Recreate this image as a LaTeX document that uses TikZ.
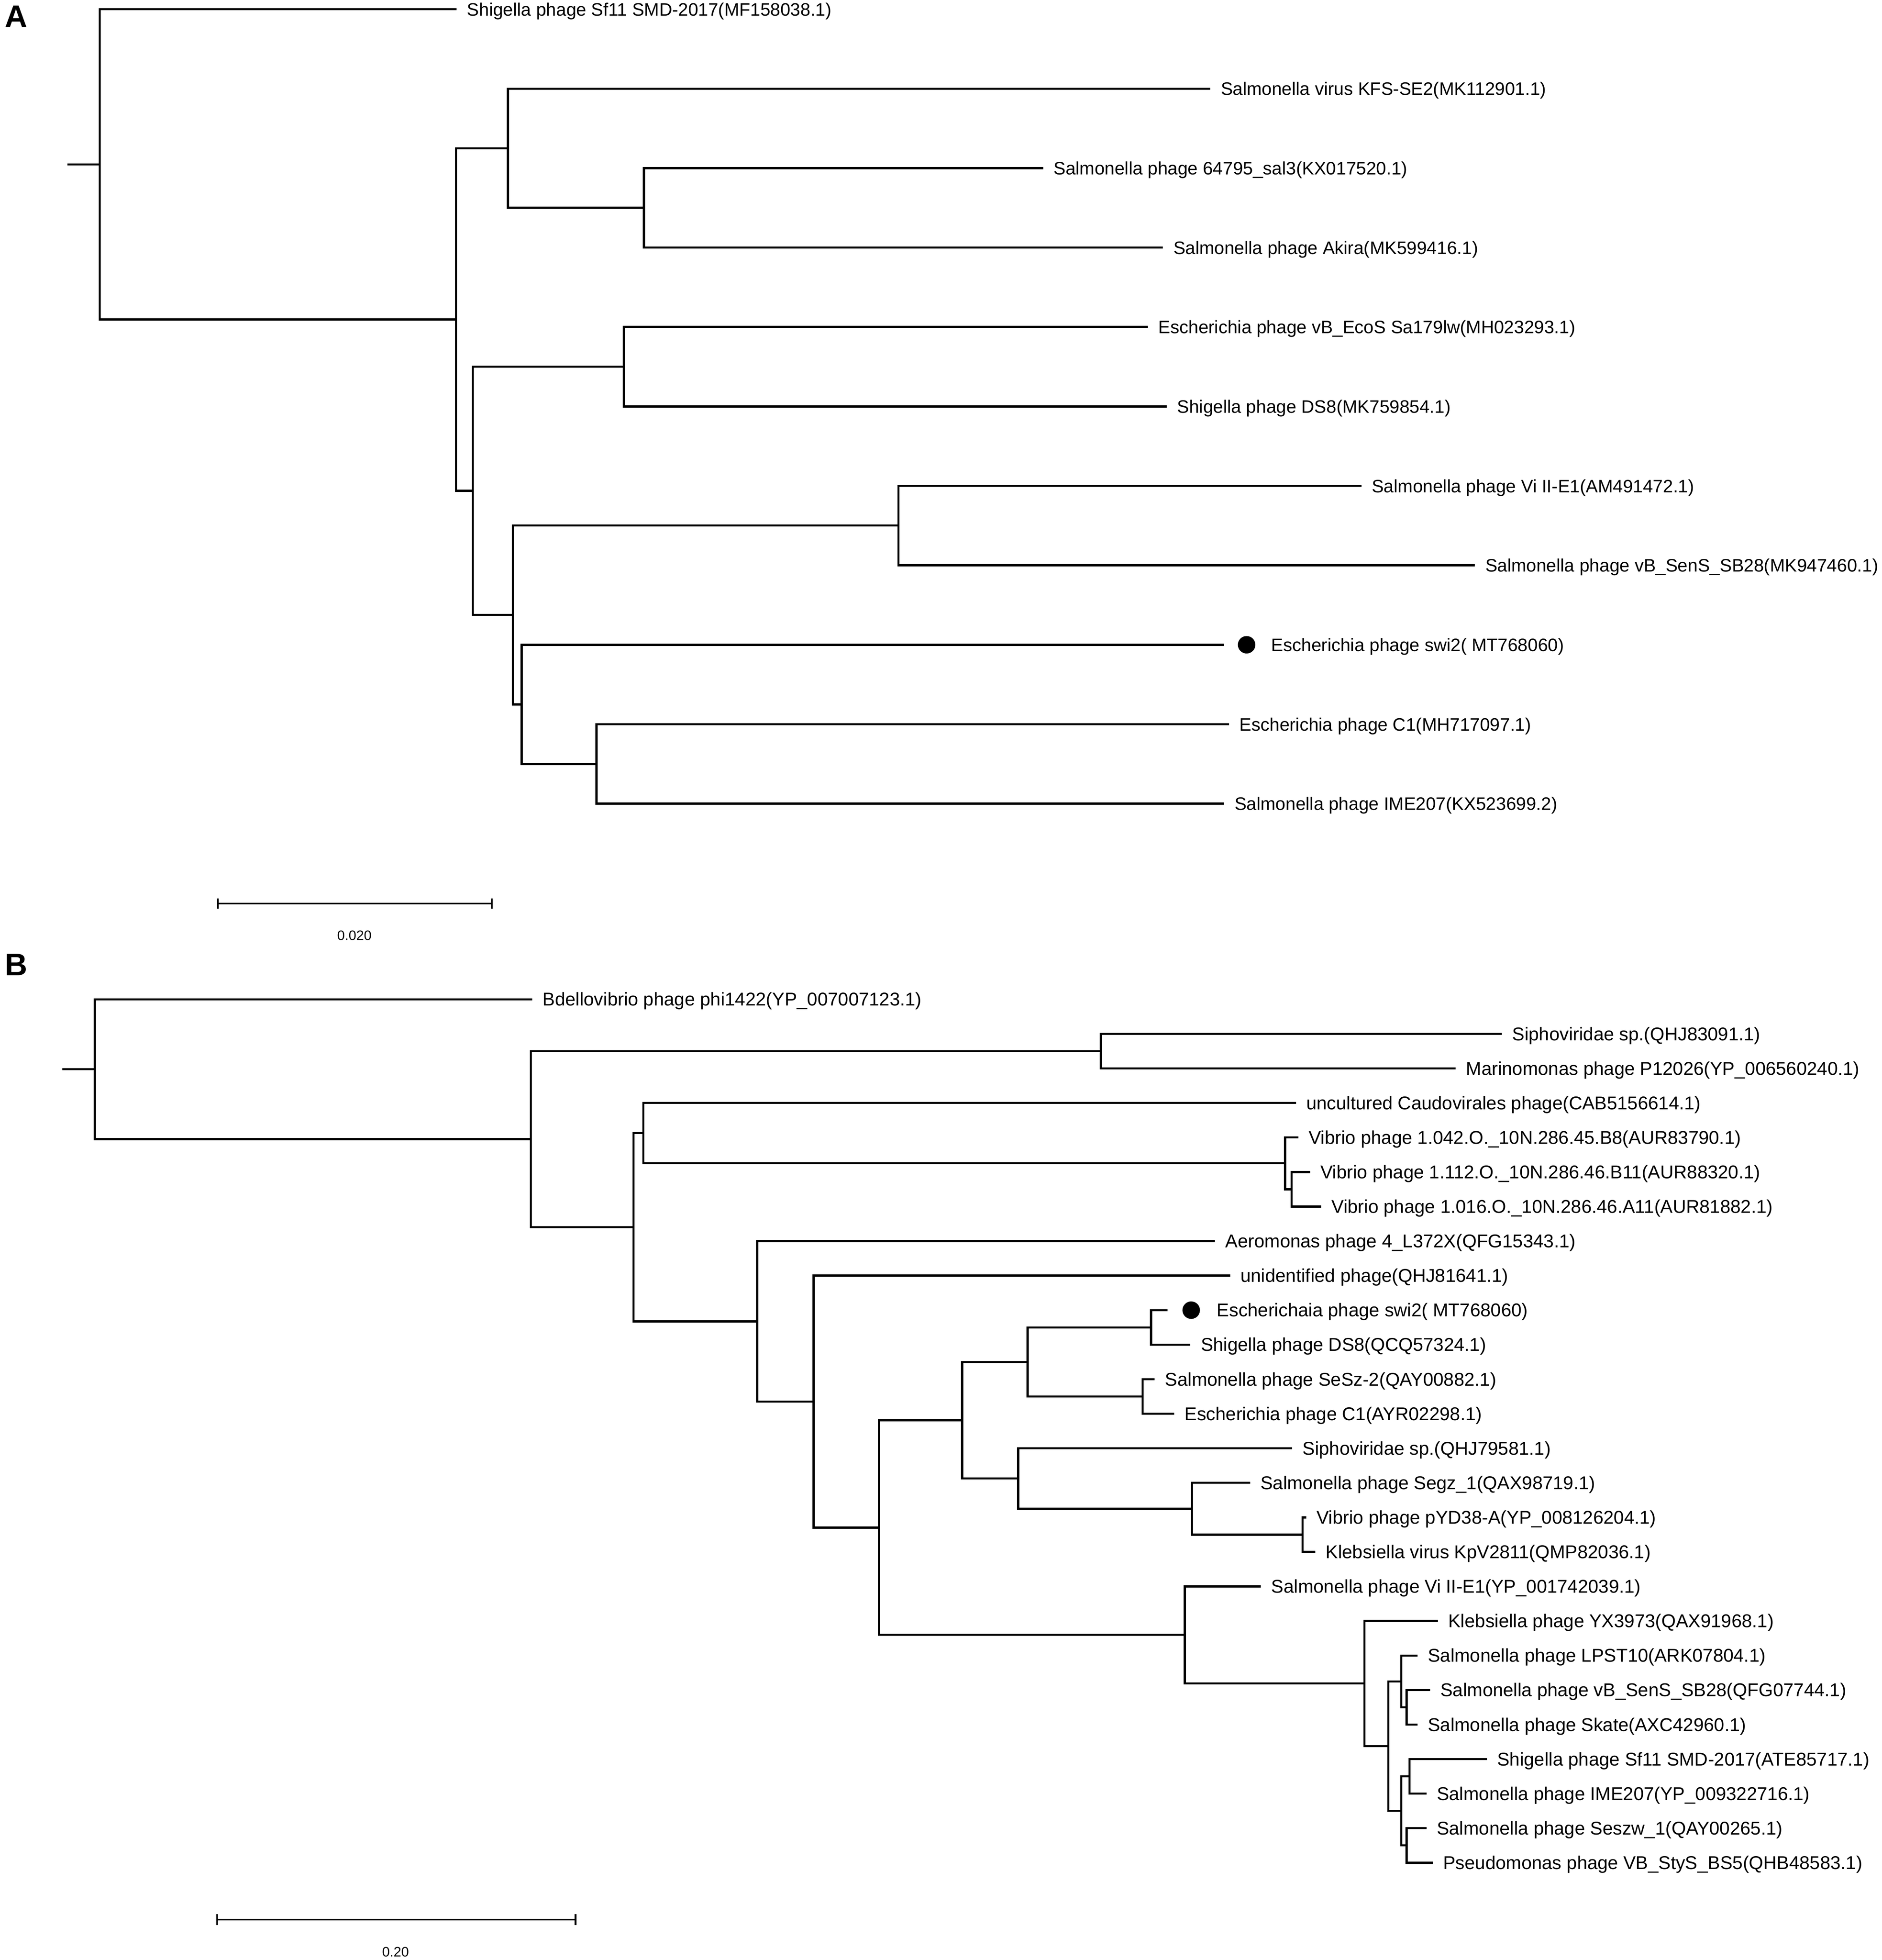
\documentclass[tikz,border=0pt]{standalone}
\usepackage{fontspec}
\setmainfont{Liberation Sans}

\begin{document}
\begin{tikzpicture}[x=1pt, y=-1pt, line width=1.7pt,
  lbla/.style={anchor=base west, inner sep=0pt, xshift=7.5pt, yshift=-5.2pt, font=\fontsize{14.45}{17}\selectfont},
  lblb/.style={lbla, font=\fontsize{14.85}{17}\selectfont},
  panel/.style={anchor=base west, inner sep=0pt, font=\fontsize{25}{30}\selectfont\bfseries},
  scl/.style={inner sep=0pt, font=\fontsize{11}{13}\selectfont}]
\useasboundingbox (0,0) rectangle (1508,1570.4);

% Panel A
\node[panel] (pa) at (3,21.7) {A};
% leaves
\coordinate (a0) at (366,7.4);
\coordinate (a1) at (970,71.05);
\coordinate (a2) at (836,134.7);
\coordinate (a3) at (932,198.35);
\coordinate (a4) at (920,262);
\coordinate (a5) at (935,325.65);
\coordinate (a6) at (1091,389.3);
\coordinate (a7) at (1182,452.95);
\coordinate (a8) at (981,516.6);
\coordinate (a9) at (985,580.25);
\coordinate (a10) at (981,643.9);
% inner nodes
\coordinate (ra0) at (54,131.7);
\coordinate (ra) at (80,131.7);
\coordinate (na1) at (365.5,256);
\coordinate (na2) at (407,118.8);
\coordinate (na4) at (516,166.5);
\coordinate (na3) at (379,393.25);
\coordinate (na5) at (500,293.8);
\coordinate (na6) at (411,492.7);
\coordinate (na7) at (720,421.1);
\coordinate (na8) at (418,564.35);
\coordinate (na9) at (478,612.1);
% branches
\draw (ra0) -- (ra);
\draw (ra) |- (a0);
\draw (ra) |- (na1);
\draw (na1) |- (na2);
\draw (na1) |- (na3);
\draw (na2) |- (a1);
\draw (na2) |- (na4);
\draw (na4) |- (a2);
\draw (na4) |- (a3);
\draw (na3) |- (na5);
\draw (na3) |- (na6);
\draw (na5) |- (a4);
\draw (na5) |- (a5);
\draw (na6) |- (na7);
\draw (na6) |- (na8);
\draw (na7) |- (a6);
\draw (na7) |- (a7);
\draw (na8) |- (a8);
\draw (na8) |- (na9);
\draw (na9) |- (a9);
\draw (na9) |- (a10);
% names
\node[lbla] (ta0) at (a0) {Shigella phage Sf11 SMD-2017(MF158038.1)};
\node[lbla] (ta1) at (a1) {Salmonella virus KFS-SE2(MK112901.1)};
\node[lbla] (ta2) at (a2) {Salmonella phage 64795\_sal3(KX017520.1)};
\node[lbla] (ta3) at (a3) {Salmonella phage Akira(MK599416.1)};
\node[lbla] (ta4) at (a4) {Escherichia phage vB\_EcoS Sa179lw(MH023293.1)};
\node[lbla] (ta5) at (a5) {Shigella phage DS8(MK759854.1)};
\node[lbla] (ta6) at (a6) {Salmonella phage Vi II-E1(AM491472.1)};
\node[lbla] (ta7) at (a7) {Salmonella phage vB\_SenS\_SB28(MK947460.1)};
\coordinate (da) at (999,516.6);
\fill (da) circle (7pt);
\node[lbla] (ta8) at (1010.5,516.6) {Escherichia phage swi2( MT768060)};
\node[lbla] (ta9) at (a9) {Escherichia phage C1(MH717097.1)};
\node[lbla] (ta10) at (a10) {Salmonella phage IME207(KX523699.2)};
% scale
\coordinate (sa1) at (174.5,724);
\coordinate (sa2) at (394.1,724);
\draw[line width=1.3pt] (sa1) -- (sa2);
\draw[line width=1.3pt] (sa1) ++(0,-4) -- ++(0,8);
\draw[line width=1.3pt] (sa2) ++(0,-4) -- ++(0,8);
\node[scl] (ka) at (284,749.5) {0.020};

% Panel B
\node[panel] (pb) at (3,781.6) {B};
% leaves
\coordinate (b1) at (426.5,800.7);
\coordinate (b2) at (1203.5,828.37);
\coordinate (b3) at (1166.5,856.04);
\coordinate (b4) at (1038.5,883.71);
\coordinate (b5) at (1040.4,911.38);
\coordinate (b6) at (1049.8,939.05);
\coordinate (b7) at (1058.7,966.72);
\coordinate (b8) at (973.7,994.39);
\coordinate (b9) at (985.8,1022.06);
\coordinate (b10) at (935.5,1049.73);
\coordinate (b11) at (954,1077.4);
\coordinate (b12) at (925.3,1105.07);
\coordinate (b13) at (941,1132.74);
\coordinate (b14) at (1035.5,1160.41);
\coordinate (b15) at (1001.8,1188.08);
\coordinate (b16) at (1046.7,1215.75);
\coordinate (b17) at (1054,1243.42);
\coordinate (b18) at (1010.5,1271.09);
\coordinate (b19) at (1152.3,1298.76);
\coordinate (b20) at (1135.9,1326.43);
\coordinate (b21) at (1146,1354.1);
\coordinate (b22) at (1135.9,1381.77);
\coordinate (b23) at (1191.5,1409.44);
\coordinate (b24) at (1143.1,1437.11);
\coordinate (b25) at (1143.1,1464.78);
\coordinate (b26) at (1148.2,1492.45);
% inner nodes
\coordinate (rb0) at (50,856.7);
\coordinate (rb) at (76,856.7);
\coordinate (nb1) at (425.5,912.75);
\coordinate (nb2) at (882.3,842.2);
\coordinate (nb3) at (507.7,983.3);
\coordinate (nb4) at (515.5,907.9);
\coordinate (nb5) at (1029.8,932.1);
\coordinate (nb6) at (1035,952.9);
\coordinate (nb7) at (606.8,1058.7);
\coordinate (nb8) at (652,1123);
\coordinate (nb9) at (704.4,1223.9);
\coordinate (nb10) at (771,1137.9);
\coordinate (nb11) at (823.5,1091.25);
\coordinate (nb12) at (922.5,1063.57);
\coordinate (nb13) at (915.6,1118.9);
\coordinate (nb14) at (816,1184.6);
\coordinate (nb15) at (955.3,1208.84);
\coordinate (nb16) at (1043.8,1229.6);
\coordinate (nb17) at (949.4,1309.9);
\coordinate (nb18) at (1093.5,1348.8);
\coordinate (nb19) at (1112.7,1399);
\coordinate (nb20) at (1123,1347.2);
\coordinate (nb21) at (1127.2,1367.9);
\coordinate (nb22) at (1123,1450.95);
\coordinate (nb23) at (1129.6,1423.3);
\coordinate (nb24) at (1127.2,1478.6);
% branches
\draw (rb0) -- (rb);
\draw (rb) |- (b1);
\draw (rb) |- (nb1);
\draw (nb1) |- (nb2);
\draw (nb1) |- (nb3);
\draw (nb2) |- (b2);
\draw (nb2) |- (b3);
\draw (nb3) |- (nb4);
\draw (nb3) |- (nb7);
\draw (nb4) |- (b4);
\draw (nb4) |- (nb5);
\draw (nb5) |- (b5);
\draw (nb5) |- (nb6);
\draw (nb6) |- (b6);
\draw (nb6) |- (b7);
\draw (nb7) |- (b8);
\draw (nb7) |- (nb8);
\draw (nb8) |- (b9);
\draw (nb8) |- (nb9);
\draw (nb9) |- (nb10);
\draw (nb9) |- (nb17);
\draw (nb10) |- (nb11);
\draw (nb10) |- (nb14);
\draw (nb11) |- (nb12);
\draw (nb11) |- (nb13);
\draw (nb12) |- (b10);
\draw (nb12) |- (b11);
\draw (nb13) |- (b12);
\draw (nb13) |- (b13);
\draw (nb14) |- (b14);
\draw (nb14) |- (nb15);
\draw (nb15) |- (b15);
\draw (nb15) |- (nb16);
\draw (nb16) |- (b16);
\draw (nb16) |- (b17);
\draw (nb17) |- (b18);
\draw (nb17) |- (nb18);
\draw (nb18) |- (b19);
\draw (nb18) |- (nb19);
\draw (nb19) |- (nb20);
\draw (nb19) |- (nb22);
\draw (nb20) |- (b20);
\draw (nb20) |- (nb21);
\draw (nb21) |- (b21);
\draw (nb21) |- (b22);
\draw (nb22) |- (nb23);
\draw (nb22) |- (nb24);
\draw (nb23) |- (b23);
\draw (nb23) |- (b24);
\draw (nb24) |- (b25);
\draw (nb24) |- (b26);
% names
\node[lblb] (tb1) at (b1) {Bdellovibrio phage phi1422(YP\_007007123.1)};
\node[lblb] (tb2) at (b2) {Siphoviridae sp.(QHJ83091.1)};
\node[lblb] (tb3) at (b3) {Marinomonas phage P12026(YP\_006560240.1)};
\node[lblb] (tb4) at (b4) {uncultured Caudovirales phage(CAB5156614.1)};
\node[lblb] (tb5) at (b5) {Vibrio phage 1.042.O.\_10N.286.45.B8(AUR83790.1)};
\node[lblb] (tb6) at (b6) {Vibrio phage 1.112.O.\_10N.286.46.B11(AUR88320.1)};
\node[lblb] (tb7) at (b7) {Vibrio phage 1.016.O.\_10N.286.46.A11(AUR81882.1)};
\node[lblb] (tb8) at (b8) {Aeromonas phage 4\_L372X(QFG15343.1)};
\node[lblb] (tb9) at (b9) {unidentified phage(QHJ81641.1)};
\coordinate (db) at (954.6,1049.73);
\fill (db) circle (7pt);
\node[lblb] (tb10) at (966.8,1049.73) {Escherichaia phage swi2( MT768060)};
\node[lblb] (tb11) at (b11) {Shigella phage DS8(QCQ57324.1)};
\node[lblb] (tb12) at (b12) {Salmonella phage SeSz-2(QAY00882.1)};
\node[lblb] (tb13) at (b13) {Escherichia phage C1(AYR02298.1)};
\node[lblb] (tb14) at (b14) {Siphoviridae sp.(QHJ79581.1)};
\node[lblb] (tb15) at (b15) {Salmonella phage Segz\_1(QAX98719.1)};
\node[lblb] (tb16) at (b16) {Vibrio phage pYD38-A(YP\_008126204.1)};
\node[lblb] (tb17) at (b17) {Klebsiella virus KpV2811(QMP82036.1)};
\node[lblb] (tb18) at (b18) {Salmonella phage Vi II-E1(YP\_001742039.1)};
\node[lblb] (tb19) at (b19) {Klebsiella phage YX3973(QAX91968.1)};
\node[lblb] (tb20) at (b20) {Salmonella phage LPST10(ARK07804.1)};
\node[lblb] (tb21) at (b21) {Salmonella phage vB\_SenS\_SB28(QFG07744.1)};
\node[lblb] (tb22) at (b22) {Salmonella phage Skate(AXC42960.1)};
\node[lblb] (tb23) at (b23) {Shigella phage Sf11 SMD-2017(ATE85717.1)};
\node[lblb] (tb24) at (b24) {Salmonella phage IME207(YP\_009322716.1)};
\node[lblb] (tb25) at (b25) {Salmonella phage Seszw\_1(QAY00265.1)};
\node[lblb] (tb26) at (b26) {Pseudomonas phage VB\_StyS\_BS5(QHB48583.1)};
% scale
\coordinate (sb1) at (174.1,1538);
\coordinate (sb2) at (461.2,1538);
\draw[line width=1.3pt] (sb1) -- (sb2);
\draw[line width=1.3pt] (sb1) ++(0,-4.5) -- ++(0,9);
\draw[line width=1.3pt] (sb2) ++(0,-4.5) -- ++(0,9);
\node[scl] (kb) at (317,1564) {0.20};
\end{tikzpicture}
\end{document}
